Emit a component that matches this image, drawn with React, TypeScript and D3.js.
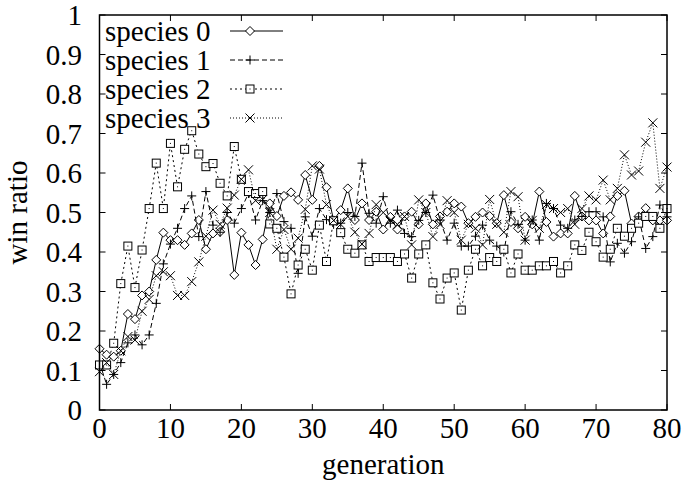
import * as d3 from "d3";

const generations = d3.range(0, 81);

const species0 = [
  0.155, 0.14, 0.135, 0.15, 0.243, 0.23, 0.29, 0.3, 0.38, 0.449,
  0.43, 0.43, 0.418, 0.447, 0.481, 0.407, 0.447, 0.451, 0.481, 0.342,
  0.449, 0.418, 0.367, 0.432, 0.523, 0.491, 0.542, 0.551, 0.532, 0.595,
  0.532, 0.618, 0.564, 0.48, 0.506, 0.561, 0.481, 0.523, 0.481, 0.502,
  0.457, 0.489, 0.457, 0.49, 0.502, 0.47, 0.523, 0.47, 0.49, 0.502,
  0.523, 0.515, 0.473, 0.489, 0.5, 0.491, 0.473, 0.544, 0.476, 0.46,
  0.489, 0.47, 0.553, 0.476, 0.439, 0.447, 0.447, 0.542, 0.49, 0.48,
  0.48, 0.447, 0.49, 0.542, 0.555, 0.472, 0.49, 0.511, 0.48, 0.48,
  0.48,
];

const species1 = [
  0.12, 0.065, 0.09, 0.12, 0.17, 0.19, 0.165, 0.19, 0.27, 0.37,
  0.42, 0.46, 0.51, 0.542, 0.439, 0.553, 0.468, 0.45, 0.5, 0.473,
  0.51, 0.548, 0.481, 0.53, 0.5, 0.548, 0.477, 0.46, 0.346, 0.489,
  0.44, 0.51, 0.482, 0.47, 0.473, 0.5, 0.49, 0.625, 0.498, 0.473,
  0.54, 0.473, 0.506, 0.447, 0.439, 0.48, 0.5, 0.544, 0.481, 0.43,
  0.473, 0.415, 0.415, 0.44, 0.468, 0.43, 0.415, 0.4, 0.502, 0.47,
  0.43, 0.481, 0.43, 0.523, 0.51, 0.468, 0.46, 0.481, 0.49, 0.502,
  0.502, 0.489, 0.375, 0.422, 0.397, 0.426, 0.489, 0.409, 0.439, 0.519,
  0.489,
];

const species2 = [
  0.114, 0.114, 0.169, 0.32, 0.415, 0.31, 0.405, 0.51, 0.625, 0.51,
  0.675, 0.565, 0.66, 0.707, 0.648, 0.616, 0.624, 0.574, 0.542, 0.667,
  0.584, 0.553, 0.548, 0.553, 0.471, 0.46, 0.387, 0.294, 0.367, 0.407,
  0.354, 0.468, 0.376, 0.479, 0.449, 0.407, 0.397, 0.418, 0.376, 0.386,
  0.386, 0.386, 0.376, 0.395, 0.334, 0.395, 0.418, 0.322, 0.281, 0.334,
  0.347, 0.253, 0.354, 0.407, 0.365, 0.386, 0.376, 0.407, 0.347, 0.395,
  0.354, 0.354, 0.365, 0.365, 0.376, 0.347, 0.365, 0.418, 0.404, 0.45,
  0.426, 0.387, 0.407, 0.46, 0.44, 0.46, 0.473, 0.49, 0.49, 0.46,
  0.51,
];

const species3 = [
  0.097, 0.12, 0.09, 0.15, 0.186, 0.177, 0.25, 0.28, 0.34, 0.35,
  0.34, 0.29, 0.29, 0.325, 0.375, 0.44, 0.506, 0.47, 0.511, 0.544,
  0.584, 0.608, 0.53, 0.533, 0.5, 0.407, 0.457, 0.407, 0.435, 0.508,
  0.618, 0.61, 0.52, 0.48, 0.47, 0.49, 0.45, 0.42, 0.447, 0.52,
  0.5, 0.48, 0.47, 0.49, 0.418, 0.532, 0.5, 0.439, 0.47, 0.53,
  0.5, 0.43, 0.47, 0.46, 0.418, 0.533, 0.47, 0.45, 0.553, 0.54,
  0.43, 0.48, 0.46, 0.52, 0.51, 0.5, 0.51, 0.47, 0.51, 0.542,
  0.532, 0.582, 0.532, 0.561, 0.646, 0.595, 0.605, 0.678, 0.727, 0.561,
  0.615,
];

const seriesNames = ["species 0", "species 1", "species 2", "species 3"];
const seriesData = [species0, species1, species2, species3];
const dashes = ["none", "5,3", "2,3", "1,2"];
const markers = ["diamond", "plus", "square", "cross"];

const xTicks = [0, 10, 20, 30, 40, 50, 60, 70, 80];
const yTicks = [0, 0.1, 0.2, 0.3, 0.4, 0.5, 0.6, 0.7, 0.8, 0.9, 1];

const WIDTH = 682;
const HEIGHT = 484;
const LEFT = 99.5;
const RIGHT = 667;
const TOP = 15;
const BOTTOM = 410;
const FONT = "'Liberation Serif', 'Times New Roman', serif";
const FS = 29;

const Marker = ({ type, x, y }: { type: string; x: number; y: number }) => {
  const s = 4.5;
  if (type === "diamond") {
    return (
      <path
        d={`M${x},${y - s}L${x + s},${y}L${x},${y + s}L${x - s},${y}Z`}
        fill="white"
        stroke="black"
        strokeWidth={1}
      />
    );
  }
  if (type === "plus") {
    return (
      <path
        d={`M${x - s},${y}H${x + s}M${x},${y - s}V${y + s}`}
        stroke="black"
        strokeWidth={1}
      />
    );
  }
  if (type === "square") {
    return (
      <g>
        <rect x={x - 4} y={y - 4} width={8} height={8} fill="white" stroke="black" strokeWidth={1} />
        <rect x={x - 0.5} y={y - 0.5} width={1} height={1} fill="black" />
      </g>
    );
  }
  return (
    <path
      d={`M${x - s},${y - s}L${x + s},${y + s}M${x - s},${y + s}L${x + s},${y - s}`}
      stroke="black"
      strokeWidth={1}
    />
  );
};

export default function App() {
  const x = d3.scaleLinear().domain([0, 80]).range([LEFT, RIGHT]);
  const y = d3.scaleLinear().domain([0, 1]).range([BOTTOM, TOP]);

  const line = d3
    .line<number>()
    .x((_, i) => x(generations[i]))
    .y((d) => y(d));

  const fmt = (v: number) => (v === 0 || v === 1 ? String(v) : d3.format(".1f")(v));

  return (
    <svg
      width={WIDTH}
      height={HEIGHT}
      style={{ position: "absolute", left: 0, top: 0, background: "white" }}
      fontFamily={FONT}
    >
      {/* series */}
      {seriesData.map((data, k) => (
        <g key={k}>
          <path
            d={line(data) || ""}
            fill="none"
            stroke="black"
            strokeWidth={1}
            strokeDasharray={dashes[k]}
          />
          {data.map((v, i) => (
            <Marker key={i} type={markers[k]} x={x(generations[i])} y={y(v)} />
          ))}
        </g>
      ))}

      {/* legend */}
      {seriesNames.map((name, k) => {
        const ly = 31 + k * 29;
        return (
          <g key={name}>
            <text x={105} y={ly + 10} fontSize={FS}>
              {name}
            </text>
            <line x1={230} x2={283} y1={ly} y2={ly} stroke="black" strokeWidth={1} strokeDasharray={dashes[k]} />
            <Marker type={markers[k]} x={250} y={ly} />
          </g>
        );
      })}

      {/* border */}
      <rect
        x={LEFT}
        y={TOP}
        width={RIGHT - LEFT}
        height={BOTTOM - TOP}
        fill="none"
        stroke="black"
        strokeWidth={1.5}
      />

      {/* x ticks */}
      {xTicks.map((t) => (
        <g key={t}>
          <line x1={x(t)} x2={x(t)} y1={BOTTOM} y2={BOTTOM - 6} stroke="black" strokeWidth={1} />
          <line x1={x(t)} x2={x(t)} y1={TOP} y2={TOP + 6} stroke="black" strokeWidth={1} />
          <text x={x(t)} y={438} fontSize={FS} textAnchor="middle">
            {t}
          </text>
        </g>
      ))}

      {/* y ticks */}
      {yTicks.map((t) => (
        <g key={t}>
          <line x1={LEFT} x2={LEFT + 6} y1={y(t)} y2={y(t)} stroke="black" strokeWidth={1} />
          <line x1={RIGHT} x2={RIGHT - 6} y1={y(t)} y2={y(t)} stroke="black" strokeWidth={1} />
          <text x={82} y={y(t) + 10} fontSize={FS} textAnchor="end">
            {fmt(t)}
          </text>
        </g>
      ))}

      <text x={(LEFT + RIGHT) / 2} y={474} fontSize={FS} textAnchor="middle">
        generation
      </text>
      <text
        transform={`translate(27, ${(TOP + BOTTOM) / 2}) rotate(-90)`}
        fontSize={FS}
        textAnchor="middle"
      >
        win ratio
      </text>
    </svg>
  );
}
